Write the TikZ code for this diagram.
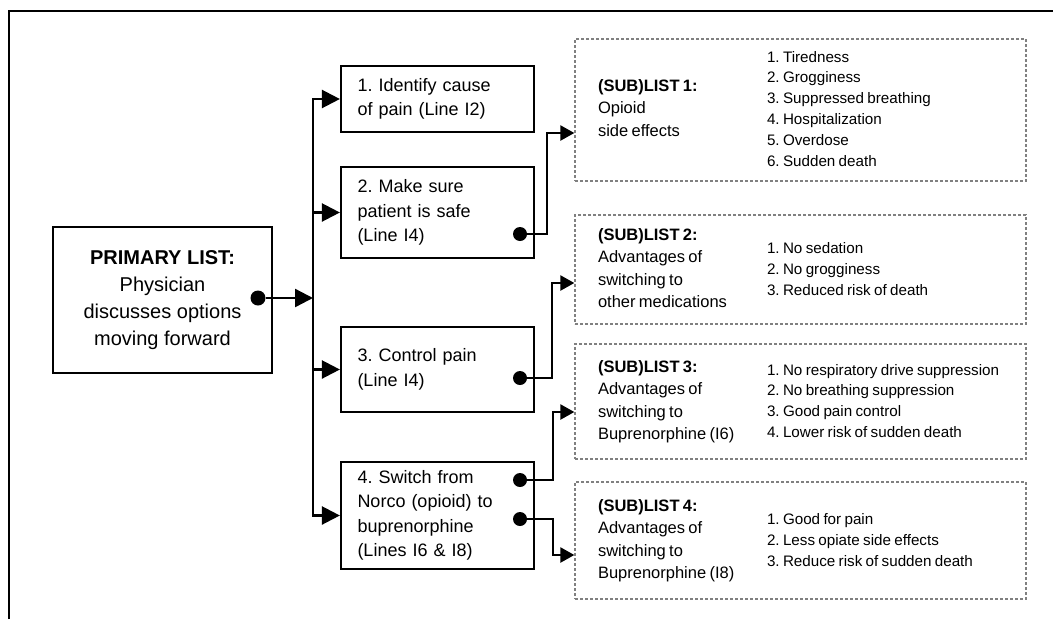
\documentclass[tikz,border=0pt]{standalone}
\usepackage{fontspec}
\setmainfont{Liberation Sans}
\usetikzlibrary{arrows.meta}
\usetikzlibrary{calc}
\frenchspacing

\newcommand{\subhead}[2]{\makebox[169pt][l]{\fontsize{16.5}{22.3}\selectfont\begin{tabular}[c]{@{}l@{}}\textbf{#1}\\#2\end{tabular}}}
\newcommand{\sublist}[1]{{\fontsize{15.2}{20.8}\selectfont\begin{tabular}[c]{@{}l@{}}#1\end{tabular}}}

\begin{document}
\begin{tikzpicture}[x=1pt, y=-1pt,
  mainbox/.style={draw, line width=2.6pt, minimum width=219pt, minimum height=146pt, align=center, font=\fontsize{20}{27}\selectfont},
  stepbox/.style={draw, line width=2.2pt, text width=160pt, inner xsep=16.5pt, inner ysep=0pt, align=left, font=\fontsize{18}{24.5}\selectfont},
  subbox/.style={draw=gray, dash pattern=on 3pt off 2pt, line width=1.3pt, text width=405pt, inner xsep=23pt, inner ysep=0pt, align=left, minimum width=451pt},
  dot/.style={circle, fill, inner sep=0pt, minimum size=14pt},
  link/.style={line width=2.4pt, -{Triangle[length=18pt, width=18pt]}},
  sublink/.style={line width=2.4pt, -{Triangle[length=14pt, width=15pt]}}]
\useasboundingbox (0, 0) rectangle (1053, 619);
\draw[line width=2pt] (9, 619)--(9, 11)--(1053, 11);

\node[mainbox](main) at (162.5, 300) {\textbf{PRIMARY LIST:}\\Physician\\discusses options\\moving forward};

\node[stepbox, minimum height=66pt](b1) at (437.5, 99) {1. Identify cause\\of pain (Line I2)};
\node[stepbox, minimum height=91pt](b2) at (437.5, 212.5) {2. Make sure\\patient is safe\\(Line I4)};
\node[stepbox, minimum height=85pt](b3) at (437.5, 369.5) {3. Control pain\\(Line I4)};
\node[stepbox, minimum height=107pt](b4) at (437.5, 515.5) {4. Switch from\\Norco (opioid) to\\buprenorphine\\(Lines I6 \& I8)};

\node[subbox, minimum height=142pt](s1) at (800.5, 110) {\subhead{(SUB)LIST 1:}{Opioid\\side effects}\sublist{1. Tiredness\\2. Grogginess\\3. Suppressed breathing\\4. Hospitalization\\5. Overdose\\6. Sudden death}};
\node[subbox, minimum height=109pt](s2) at (800.5, 269.5) {\subhead{(SUB)LIST 2:}{Advantages of\\switching to\\other medications}\sublist{1. No sedation\\2. No grogginess\\3. Reduced risk of death}};
\node[subbox, minimum height=115pt](s3) at (800.5, 401.5) {\subhead{(SUB)LIST 3:}{Advantages of\\switching to\\Buprenorphine (I6)}\sublist{1. No respiratory drive suppression\\2. No breathing suppression\\3. Good pain control\\4. Lower risk of sudden death}};
\node[subbox, minimum height=117pt](s4) at (800.5, 540.5) {\subhead{(SUB)LIST 4:}{Advantages of\\switching to\\Buprenorphine (I8)}\sublist{1. Good for pain\\2. Less opiate side effects\\3. Reduce risk of sudden death}};

\node[dot, minimum size=15pt](d0) at (258, 298) {};
\node[dot](d2) at (520, 234) {};
\node[dot](d3) at (520, 378) {};
\node[dot](d4a) at (520, 480) {};
\node[dot](d4b) at (520, 519) {};
\coordinate(bus) at (313, 298);

\draw[link] (d0)--(bus);
\draw[link] (bus) |- (b1.west); \draw[link] (bus) |- (b2.west);
\draw[link] (bus) |- (b3.west); \draw[link] (bus) |- (b4.west);
\draw[sublink] (d2)--++(27, 0) |- ($(s1.west)+(0, 23)$);
\draw[sublink] (d3)--++(32, 0) |- ($(s2.west)+(0, 13.5)$);
\draw[sublink] (d4a)--++(33, 0) |- ($(s3.west)+(0, 10.5)$);
\draw[sublink] (d4b)--++(33, 0) |- ($(s4.west)+(0, 14.5)$);
\end{tikzpicture}
\end{document}
